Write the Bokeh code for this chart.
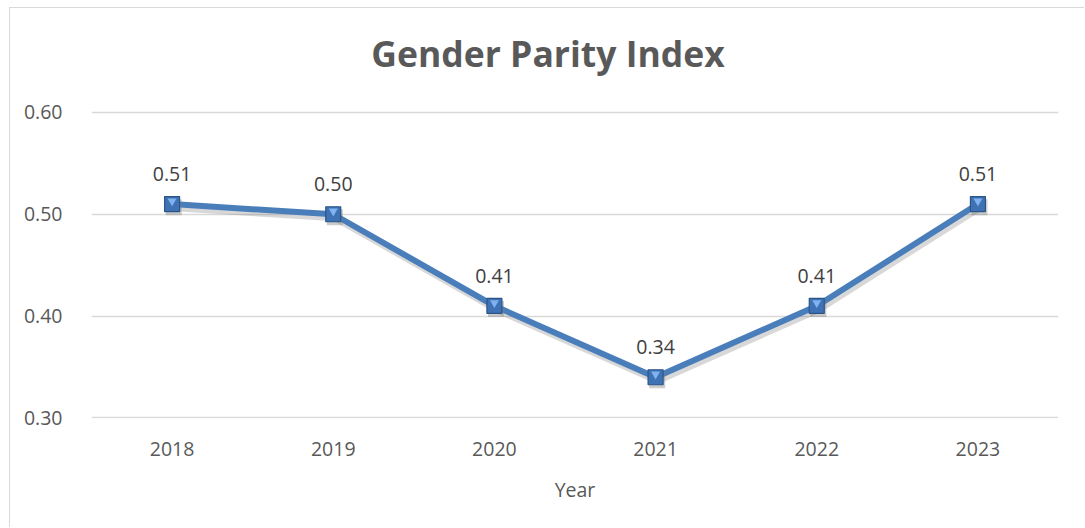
from bokeh.plotting import figure
from bokeh.models import ColumnDataSource, FactorRange, Range1d, FixedTicker, LabelSet, Label, NumeralTickFormatter
from bokeh.transform import dodge
from bokeh.core.properties import value
from bokeh.embed import file_html
from bokeh.resources import INLINE

title_text = "Gender Parity Index"
years = ["2018", "2019", "2020", "2021", "2022", "2023"]
gpi = [0.51, 0.50, 0.41, 0.34, 0.41, 0.51]
labels = ["0.51", "0.50", "0.41", "0.34", "0.41", "0.51"]
y_ticks = [0.3, 0.4, 0.5, 0.6]

src = ColumnDataSource(dict(x=years, y=gpi, lab=labels))

W, H = 1075, 520
# the frame extends to the top of the chart so the title can sit inside it
p = figure(width=W, height=H, x_range=FactorRange(*years), y_range=Range1d(0.2995, 0.702),
           output_backend="svg", toolbar_location=None,
           min_border_left=81, min_border_right=27, min_border_top=0, min_border_bottom=110)
p.outline_line_color = None
p.border_fill_color = "white"
p.background_fill_color = "white"

# title anchored above the top tick, shifted to the centre of the whole chart
title = Label(x=len(years) / 2, y=y_ticks[-1], x_offset=-27, y_offset=59, text=title_text,
              text_align="center", text_baseline="middle", text_font="Open Sans",
              text_font_size="35.5px", text_font_style="bold", text_color="#595959")
p.add_layout(title)

p.xgrid.grid_line_color = None
p.ygrid.grid_line_color = "#d9d9d9"
p.ygrid.grid_line_width = 1.3
p.yaxis.ticker = FixedTicker(ticks=y_ticks)
p.yaxis.formatter = NumeralTickFormatter(format="0.00")

for ax in (p.xaxis, p.yaxis):
    ax.axis_line_color = None
    ax.major_tick_line_color = None
    ax.minor_tick_line_color = None
    ax.major_label_text_font = "Open Sans"
    ax.major_label_text_font_size = "19.5px"
    ax.major_label_text_color = "#595959"
p.yaxis.major_label_standoff = 23
p.xaxis.major_label_standoff = 17
p.xaxis.axis_label = "Year"
p.xaxis.axis_label_text_font = "Open Sans"
p.xaxis.axis_label_text_font_size = "19.5px"
p.xaxis.axis_label_text_font_style = "normal"
p.xaxis.axis_label_text_color = "#595959"
p.xaxis.axis_label_standoff = 17

# shadow
p.line(x=dodge("x", 0.012, range=p.x_range), y=dodge("y", -0.004, range=p.y_range), source=src,
       line_color="#7f7f7f", line_alpha=0.3, line_width=6, line_join="round")
p.line(x="x", y="y", source=src, line_color="#4a7ebb", line_width=6, line_join="round")

p.scatter(x=dodge("x", 0.01, range=p.x_range), y=dodge("y", -0.003, range=p.y_range), source=src,
          marker="square", size=16, fill_color="#7f7f7f", fill_alpha=0.4, line_color=None)
p.scatter(x="x", y="y", source=src, marker="square", size=15, fill_color="#3f72b5",
          line_color="#2b5587", line_width=1.2)
p.scatter(x="x", y=dodge("y", 0.003, range=p.y_range), source=src, marker="inverted_triangle",
          size=9, fill_color="#7fb2ee", line_color=None)

lbl = LabelSet(x="x", y="y", text="lab", source=src, y_offset=23, text_align="center",
               text_baseline="bottom", text_font=value("Open Sans"), text_font_size=value("19.5px"),
               text_color="#404040")
p.add_layout(lbl)

p.styles = {"border-left": "1px solid #d9d9d9", "border-top": "1px solid #d9d9d9",
            "margin-left": "9px", "margin-top": "7px"}

open("out.html", "w").write(file_html(p, INLINE))
